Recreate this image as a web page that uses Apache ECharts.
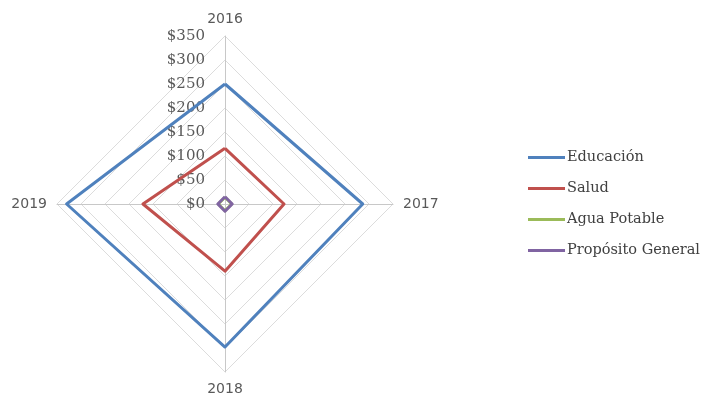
<!DOCTYPE html>
<html>
<head>
    <meta charset="utf-8">
</head>
<body style="height: 100%; margin: 0; background: #fff">
<div id="container" style="width: 702px; height: 402px"></div>
<script src="https://cdn.jsdelivr.net/npm/echarts@6/dist/echarts.min.js"></script>
<script type="text/javascript">
    var years = ['2016', '2017', '2018', '2019'];
    var educacion = [250, 287, 298, 330];
    var salud = [116, 123, 140, 171];
    var aguaPotable = [14, 14, 14, 14];
    var propositoGeneral = [15, 15, 15, 15];

    var dom = document.getElementById('container');
    var myChart = echarts.init(dom, null, {renderer: 'canvas'});

    // radar runs counter-clockwise, the chart goes clockwise: 2016 top, 2017 right
    var order = [0, 3, 2, 1];
    function reorder(arr) {
        return order.map(function (i) { return arr[i]; });
    }

    var indicator = reorder(years).map(function (y, i) {
        var ind = {name: y, min: 0, max: 350};
        if (i === 0) {
            // only the top axis carries the $ labels
            ind.axisLabel = {show: true};
        }
        return ind;
    });

    function serie(name, data, color) {
        return {
            name: name,
            value: reorder(data),
            symbol: 'none',
            lineStyle: {color: color, width: 3},
            itemStyle: {color: color}
        };
    }

    var option = {
        animation: false,
        color: ['#4F81BD', '#C0504D', '#9BBB59', '#8064A2'],
        legend: {
            orient: 'vertical',
            left: 528,
            top: 150,
            padding: 0,
            itemGap: 16,
            itemWidth: 37,
            itemHeight: 3,
            icon: 'rect',
            textStyle: {fontFamily: 'DejaVu Serif', fontSize: 14.5, color: '#404040', padding: [0, 0, 0, -3]},
            data: ['Educación', 'Salud', 'Agua Potable', 'Propósito General']
        },
        radar: {
            center: [225, 204],
            radius: 168,
            shape: 'polygon',
            startAngle: 90,
            splitNumber: 7,
            indicator: indicator,
            nameGap: 10,
            axisName: {color: '#595959', fontFamily: 'DejaVu Sans', fontSize: 14},
            axisLine: {lineStyle: {color: '#c8c8c8', width: 1}},
            splitLine: {lineStyle: {color: '#dcdcdc', width: 1}},
            splitArea: {show: false},
            axisTick: {show: false},
            axisLabel: {
                show: false,
                color: '#595959',
                fontFamily: 'DejaVu Serif',
                fontSize: 15,
                margin: 20,
                formatter: function (v) { return '$' + v; }
            }
        },
        series: [{
            type: 'radar',
            symbol: 'none',
            data: [
                serie('Educación', educacion, '#4F81BD'),
                serie('Salud', salud, '#C0504D'),
                serie('Agua Potable', aguaPotable, '#9BBB59'),
                serie('Propósito General', propositoGeneral, '#8064A2')
            ]
        }]
    };

    myChart.setOption(option);
    window.addEventListener('resize', myChart.resize);
</script>
</body>
</html>
